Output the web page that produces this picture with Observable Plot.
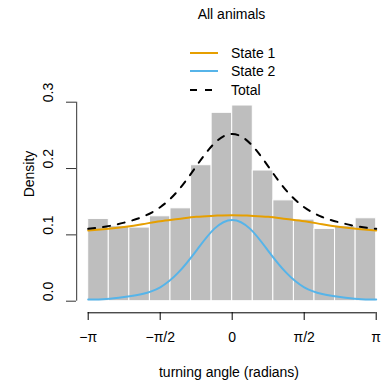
<!DOCTYPE html>
<html>
<head>
<meta charset="utf-8">
<script src="https://cdn.jsdelivr.net/npm/d3@7"></script>
<script src="https://cdn.jsdelivr.net/npm/@observablehq/plot@0.6"></script>
<style>
  html, body { margin: 0; padding: 0; background: white; }
  #wrap { position: relative; width: 381px; height: 382px; font-family: "Liberation Sans", Arial, sans-serif; font-size: 14px; color: black; }
  #title { position: absolute; left: 0; width: 463px; top: 6px; text-align: center; font-size: 14px; line-height: 17px; }
  #legend { position: absolute; left: 188px; top: 44px; }
  .row { height: 18.3px; display: flex; align-items: center; line-height: 16px; }
  .row svg { width: 34px; height: 10px; margin-right: 9px; }
</style>
</head>
<body>
<div id="wrap">
  <div id="title">All animals</div>
  <div id="legend"></div>
</div>
<script>
// ---- data ----
const binCount = 14;
const binDensity = [0.124, 0.113, 0.111, 0.128, 0.140, 0.205, 0.284, 0.295, 0.197, 0.152, 0.123, 0.109, 0.113, 0.125];

const curveAngleSteps = [-8, -7, -6, -5, -4, -3, -2, -1, 0, 1, 2, 3, 4, 5, 6, 7, 8]; // multiples of pi/8
const state1 = [0.1066, 0.109, 0.112, 0.116, 0.1207, 0.124, 0.1273, 0.1288, 0.1297, 0.1288, 0.1273, 0.124, 0.1207, 0.116, 0.112, 0.109, 0.1066];
const state2 = [0.0025, 0.0035, 0.0065, 0.011, 0.021, 0.043, 0.076, 0.109, 0.1225, 0.109, 0.076, 0.043, 0.021, 0.011, 0.0065, 0.0035, 0.0025];
const total  = [0.1091, 0.1125, 0.1185, 0.127, 0.1417, 0.167, 0.2033, 0.2378, 0.2522, 0.2378, 0.2033, 0.167, 0.1417, 0.127, 0.1185, 0.1125, 0.1091];

const xTickValues = [-Math.PI, -Math.PI / 2, 0, Math.PI / 2, Math.PI];
const xTickLabels = ["\u2212\u03c0", "\u2212\u03c0/2", "0", "\u03c0/2", "\u03c0"];
const yTicks = [0, 0.1, 0.2, 0.3];

const seriesNames = ["State 1", "State 2", "Total"];
const seriesColors = ["#E69F00", "#56B4E9", "black"];

// ---- derived tables ----
const binWidth = 2 * Math.PI / binCount;
const bars = binDensity.map((d, i) => ({x1: -Math.PI + i * binWidth, x2: -Math.PI + (i + 1) * binWidth, density: d}));
const curves = curveAngleSteps.map((k, i) => ({angle: k * Math.PI / 8, s1: state1[i], s2: state2[i], tot: total[i]}));

const yAxisX = -Math.PI * 1.08;   // R-style axis offset (4% of range)
const xAxisY = -0.0175;
const dash = "7,8";

const plot = Plot.plot({
  width: 381,
  height: 382,
  marginLeft: 76,
  marginRight: 0,
  marginTop: 35,
  marginBottom: 70,
  style: {fontFamily: "'Liberation Sans', Arial, sans-serif", fontSize: "14px", background: "white", color: "black"},
  x: {domain: [-Math.PI, Math.PI], range: [87.7, 375.7]},
  y: {domain: [0, 0.3], range: [300.7, 101.7]},
  marks: [
    Plot.rectY(bars, {x1: "x1", x2: "x2", y: "density", fill: "#bebebe", stroke: "white", strokeWidth: 1}),
    Plot.line(curves, {x: "angle", y: "s1", stroke: seriesColors[0], strokeWidth: 2, curve: "natural"}),
    Plot.line(curves, {x: "angle", y: "s2", stroke: seriesColors[1], strokeWidth: 2, curve: "natural"}),
    Plot.line(curves, {x: "angle", y: "tot", stroke: seriesColors[2], strokeWidth: 2, strokeDasharray: dash, curve: "natural"}),
    Plot.ruleY([xAxisY], {x1: xTickValues[0], x2: xTickValues[xTickValues.length - 1], stroke: "black"}),
    Plot.axisX({ticks: xTickValues, tickFormat: d => xTickLabels[xTickValues.indexOf(d)], tickSize: 8, tickPadding: 12,
      label: "turning angle (radians)", labelAnchor: "center", labelArrow: "none", labelOffset: 64, stroke: "black", fontSize: 14}),
    Plot.ruleX([yAxisX], {y1: yTicks[0], y2: yTicks[yTicks.length - 1], stroke: "#333"}),
    Plot.axisY({ticks: yTicks, tickSize: 10, tickFormat: () => "", label: "Density", labelAnchor: "center", labelArrow: "none", labelOffset: 52, stroke: "#333", fontSize: 14}),
    Plot.text(yTicks, {y: d => d, text: d => d3.format(".1f")(d), frameAnchor: "left", dx: -28, rotate: -90, fontSize: 14, fill: "black"})
  ]
});
document.getElementById("wrap").prepend(plot);
plot.style.position = "absolute";
plot.style.left = "0";
plot.style.top = "0";

// legend
const legend = document.getElementById("legend");
seriesNames.forEach((name, i) => {
  const row = document.createElement("div");
  row.className = "row";
  const da = i === 2 ? ` stroke-dasharray="${dash}"` : '';
  row.innerHTML = `<svg><line x1="2" y1="5" x2="30" y2="5" stroke="${seriesColors[i]}" stroke-width="2"${da}/></svg><span>${name}</span>`;
  legend.appendChild(row);
});
</script>
</body>
</html>
